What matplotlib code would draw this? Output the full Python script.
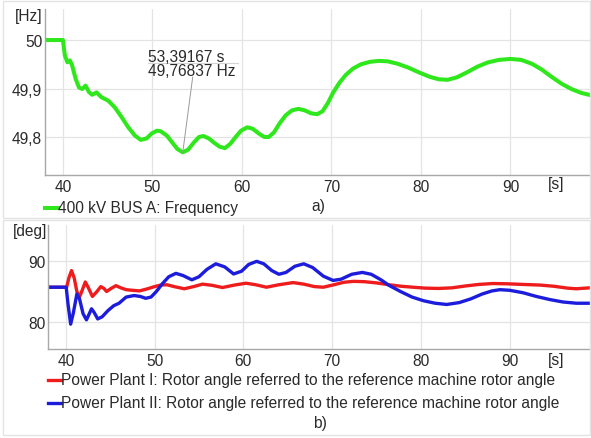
import numpy as np
import matplotlib
matplotlib.use("Agg")
import matplotlib.pyplot as plt
from matplotlib.lines import Line2D
from matplotlib.patches import Rectangle

plt.rcParams['font.family'] = ['Liberation Sans', 'DejaVu Sans']

# ---- a) bus frequency ----
freq_t = [38.0, 40.0, 40.22, 40.5, 40.78, 41.04, 41.42, 41.8, 42.16, 42.53, 42.9,
          43.27, 43.76, 44.3, 45.06, 45.8, 46.56, 47.3, 48.04, 48.7, 49.35, 49.9,
          50.5, 50.9, 51.6, 52.2, 52.8, 53.39167, 54.0, 54.6, 55.2, 55.7, 56.3,
          56.9, 57.5, 58.1, 58.7, 59.3, 59.9, 60.6, 61.2, 61.9, 62.5, 63.0, 63.6,
          64.2, 64.9, 65.6, 66.3, 67.0, 67.7, 68.4, 69.0, 69.6, 70.2, 70.9, 71.6,
          72.4, 73.3, 74.3, 75.3, 76.3, 77.4, 78.6, 79.8, 81.0, 82.0, 83.0, 84.0,
          85.1, 86.3, 87.5, 88.7, 90.0, 91.2, 92.4, 93.5, 94.6, 95.7, 96.8, 97.9, 99.0]
freq_hz = [50.0, 50.0, 49.968, 49.954, 49.958, 49.947, 49.92, 49.902, 49.899, 49.906,
           49.893, 49.887, 49.892, 49.882, 49.875, 49.861, 49.841, 49.82, 49.803,
           49.794, 49.797, 49.807, 49.813, 49.812, 49.803, 49.789, 49.775, 49.76837,
           49.774, 49.788, 49.800, 49.802, 49.797, 49.788, 49.780, 49.777, 49.786,
           49.800, 49.813, 49.820, 49.817, 49.807, 49.800, 49.800, 49.810, 49.828,
           49.845, 49.855, 49.858, 49.855, 49.849, 49.847, 49.853, 49.870, 49.892,
           49.912, 49.928, 49.941, 49.950, 49.955, 49.957, 49.956, 49.951, 49.943,
           49.933, 49.924, 49.919, 49.918, 49.923, 49.933, 49.945, 49.954, 49.959,
           49.961, 49.959, 49.951, 49.939, 49.924, 49.910, 49.899, 49.891, 49.886]

# ---- b) rotor angles ----
pp1_t = [38.0, 40.1, 40.35, 40.65, 40.95, 41.25, 41.55, 41.85, 42.2, 42.55, 43.0,
         43.45, 43.95, 44.3, 44.6, 45.1, 45.65, 46.2, 46.8, 47.5, 48.3, 49.1, 50.0,
         50.7, 51.4, 52.2, 53.35, 54.4, 55.4, 56.5, 57.65, 59.0, 60.3, 61.4, 62.6,
         64.0, 65.6, 66.8, 68.0, 69.0, 70.2, 71.3, 72.4, 73.6, 75.0, 76.4, 77.8,
         79.1, 80.5, 82.0, 83.5, 85.0, 86.5, 88.1, 89.8, 91.5, 93.4, 95.0, 96.5,
         97.5, 99.0]
pp1_deg = [85.7, 85.7, 87.2, 88.4, 87.2, 85.0, 84.1, 85.2, 86.55, 85.6, 84.2, 84.9,
           85.8, 85.5, 85.0, 85.5, 85.95, 85.6, 85.3, 85.2, 85.1, 85.4, 85.8, 86.05,
           86.1, 85.8, 85.45, 85.8, 86.2, 86.0, 85.65, 86.05, 86.35, 86.1, 85.7,
           86.1, 86.45, 86.2, 85.8, 85.7, 86.1, 86.5, 86.65, 86.6, 86.4, 86.1,
           85.85, 85.7, 85.55, 85.5, 85.6, 85.9, 86.15, 86.3, 86.25, 86.15, 86.05,
           85.85, 85.55, 85.45, 85.6]

pp2_t = [38.0, 40.05, 40.25, 40.55, 40.85, 41.25, 41.55, 41.95, 42.33, 42.65, 42.9,
         43.2, 43.6, 44.1, 44.75, 45.4, 46.0, 46.8, 47.7, 48.4, 49.0, 49.6, 50.2,
         50.9, 51.6, 52.4, 53.2, 54.2, 55.0, 55.9, 56.9, 57.9, 58.9, 59.8, 60.6,
         61.5, 62.3, 63.2, 64.0, 64.8, 65.8, 66.8, 67.8, 69.0, 70.1, 71.0, 72.2,
         73.4, 74.4, 75.5, 76.4, 77.7, 79.0, 80.3, 81.6, 82.9, 84.3, 85.6, 86.9,
         88.0, 88.9, 90.0, 91.5, 93.0, 94.5, 96.0, 97.5, 99.0]
pp2_deg = [85.7, 85.7, 83.0, 79.7, 81.5, 84.6, 83.8, 81.4, 80.4, 81.4, 82.2, 81.6,
           80.55, 80.9, 81.9, 82.7, 83.1, 84.1, 84.35, 84.2, 83.9, 84.1, 85.0, 86.3,
           87.4, 87.95, 87.6, 86.9, 87.4, 88.6, 89.5, 89.0, 87.85, 88.3, 89.4, 89.9,
           89.5, 88.4, 87.8, 88.1, 89.1, 89.5, 88.9, 87.5, 86.8, 87.0, 87.8, 88.1,
           87.8, 86.9, 86.0, 85.0, 84.1, 83.5, 83.1, 82.9, 83.2, 83.8, 84.6, 85.1,
           85.3, 85.2, 84.8, 84.2, 83.7, 83.3, 83.1, 83.1]

x_ticks = [40, 50, 60, 70, 80, 90]
freq_ticks = [49.8, 49.9, 50.0]
freq_tick_labels = ['49,8', '49,9', '50']
deg_ticks = [80, 90]
deg_tick_labels = ['80', '90']

freq_label = '400 kV BUS A: Frequency'
pp1_label = 'Power Plant I: Rotor angle referred to the reference machine rotor angle'
pp2_label = 'Power Plant II: Rotor angle referred to the reference machine rotor angle'

GREEN = '#2ee81c'
RED = '#ee1c1c'
BLUE = '#1c1cdc'
TXT = '#2a2a2a'
FS = 11.2

W, H = 591, 439
fig = plt.figure(figsize=(W / 100, H / 100), dpi=100)
fig.patch.set_facecolor('white')


def fx(px):
    return px / W


def fy(py):
    return 1 - py / H


def style_axes(ax):
    for s in ('top', 'right'):
        ax.spines[s].set_visible(False)
    for s in ('left', 'bottom'):
        ax.spines[s].set_color('#a8a8a8')
        ax.spines[s].set_linewidth(1.0)
    ax.grid(True, color='#e4e4e4', lw=0.9)
    ax.set_axisbelow(True)
    ax.tick_params(length=0, labelsize=FS, labelcolor=TXT)
    ax.tick_params(axis='x', pad=3)
    ax.tick_params(axis='y', pad=2)


# panel frames
fig.add_artist(Rectangle((fx(3), fy(219)), fx(587), (219 - 2) / H, transform=fig.transFigure,
                         fill=False, ec='#e4e4e4', lw=1.0))
fig.add_artist(Rectangle((fx(3), fy(436)), fx(587), (436 - 221) / H, transform=fig.transFigure,
                         fill=False, ec='#e4e4e4', lw=1.0))

# ---- panel a ----
ax1 = fig.add_axes([fx(45), fy(176), (591 - 45) / W, (176 - 10) / H])
style_axes(ax1)
ax1.plot(freq_t, freq_hz, color=GREEN, lw=2.9, solid_joinstyle='round', solid_capstyle='butt')
ax1.set_xlim(38.0, 99.0)
ax1.set_ylim(49.7216, 50.064)
ax1.set_xticks(x_ticks)
ax1.set_xticklabels([str(v) for v in x_ticks])
ax1.set_yticks(freq_ticks)
ax1.set_yticklabels(freq_tick_labels)

i_min = int(np.argmin(freq_hz))
t_min, f_min = freq_t[i_min], freq_hz[i_min]
ax1.annotate('', xy=(t_min, f_min), xytext=(192.7, H - 78), textcoords='figure pixels',
             arrowprops=dict(arrowstyle='-', color='#9a9a9a', lw=0.7, shrinkA=0, shrinkB=0))
fig.text(fx(148), fy(57), f'{t_min:.5f} s'.replace('.', ','), fontsize=FS, color=TXT,
         va='center', ha='left')
fig.text(fx(148), fy(72), f'{f_min:.5f} Hz'.replace('.', ','), fontsize=FS, color=TXT,
         va='center', ha='left')
fig.add_artist(Line2D([fx(148), fx(238)], [fy(63.5), fy(63.5)], color='#d4d4d4', lw=0.8))

fig.text(fx(43), fy(16), '[Hz]', fontsize=FS, color=TXT, ha='right', va='center')
fig.text(fx(556), fy(185), '[s]', fontsize=FS, color=TXT, ha='center', va='center')

fig.add_artist(Line2D([fx(45), fx(58)], [fy(209), fy(209)], color=GREEN, lw=2.9))
fig.text(fx(58), fy(209), freq_label, fontsize=FS, color=TXT, ha='left', va='center')
fig.text(fx(318), fy(207), 'a)', fontsize=FS, color=TXT, ha='center', va='center')

# ---- panel b ----
ax2 = fig.add_axes([fx(48), fy(350), (591 - 48) / W, (350 - 226) / H])
style_axes(ax2)
ax2.plot(pp1_t, pp1_deg, color=RED, lw=2.4, solid_joinstyle='round')
ax2.plot(pp2_t, pp2_deg, color=BLUE, lw=2.4, solid_joinstyle='round')
ax2.set_xlim(38.0, 99.15)
ax2.set_ylim(75.67, 95.8)
ax2.set_xticks(x_ticks)
ax2.set_xticklabels([str(v) for v in x_ticks])
ax2.set_yticks(deg_ticks)
ax2.set_yticklabels(deg_tick_labels)

fig.text(fx(47), fy(232), '[deg]', fontsize=FS, color=TXT, ha='right', va='center')
fig.text(fx(556), fy(361), '[s]', fontsize=FS, color=TXT, ha='center', va='center')

fig.add_artist(Line2D([fx(48), fx(61)], [fy(381), fy(381)], color=RED, lw=2.4))
fig.text(fx(61), fy(381), pp1_label, fontsize=FS, color=TXT, ha='left', va='center')
fig.add_artist(Line2D([fx(48), fx(61)], [fy(404), fy(404)], color=BLUE, lw=2.4))
fig.text(fx(61), fy(404), pp2_label, fontsize=FS, color=TXT, ha='left', va='center')
fig.text(fx(320), fy(424), 'b)', fontsize=FS, color=TXT, ha='center', va='center')

fig.savefig('out.png', dpi=100, facecolor='white')
